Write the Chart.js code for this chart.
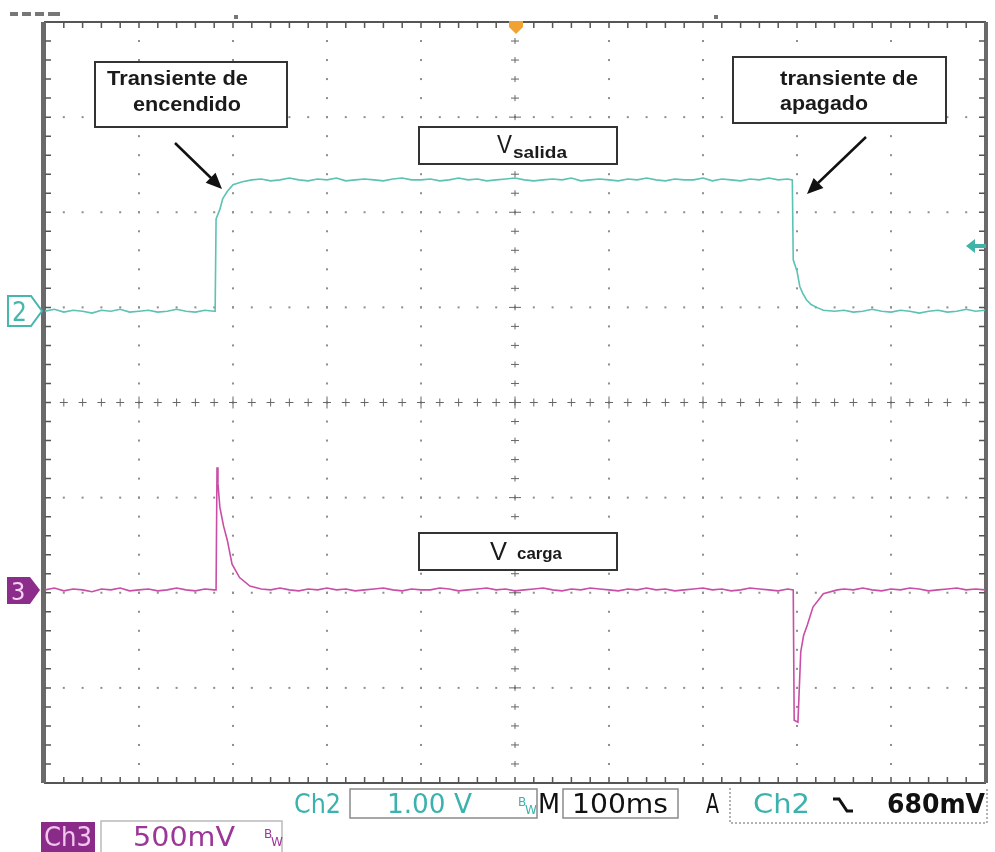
<!DOCTYPE html>
<html>
<head>
<meta charset="utf-8">
<script src="https://cdn.jsdelivr.net/npm/chart.js@4"></script>
<style>
  html, body { margin: 0; padding: 0; background: #fff; }
  #wrap { position: relative; width: 995px; height: 852px; overflow: hidden; }
  #scope, #overlay { position: absolute; left: 0; top: 0; }
  .note { font-family: "Liberation Sans", Arial, sans-serif; font-weight: bold; fill: #1a1a1a; }
  .osc { font-family: "DejaVu Sans Condensed", "DejaVu Sans", sans-serif; font-size: 26px; }
</style>
</head>
<body>
<div id="wrap">
<canvas id="scope" width="995" height="852"></canvas>
<svg id="overlay" width="995" height="852" xmlns="http://www.w3.org/2000/svg">
  <!-- cropped header remnant -->
  <g fill="#777">
    <rect x="10" y="12" width="8" height="4"/><rect x="22" y="12" width="9" height="4"/>
    <rect x="35" y="12" width="9" height="4"/><rect x="48" y="12" width="12" height="4"/>
    <rect x="234" y="15" width="4" height="4"/><rect x="714" y="15" width="4" height="4"/>
  </g>

  <!-- trigger position marker -->
  <path d="M509,21 H523 V27 L516,34 L509,27 Z" fill="#f0a232"/>
  <!-- trigger level marker -->
  <path d="M966,246 L975,239 V244 H986 V248 H975 V253 Z" fill="#3fb5a8"/>

  <!-- channel ground markers -->
  <path d="M8,296 H31 L42,311 L31,326 H8 Z" fill="#fff" stroke="#45b7ad" stroke-width="2"/>
  <text x="12" y="321" font-family="DejaVu Sans Condensed, DejaVu Sans" font-size="26" fill="#45b7ad">2</text>
  <path d="M7,577 H30 L40,590 L30,604 H7 Z" fill="#8c2d8c"/>
  <text x="11" y="600" font-family="DejaVu Sans Condensed, DejaVu Sans" font-size="25" fill="#f6d2f2">3</text>

  <!-- annotations -->
  <rect x="95" y="62" width="192" height="65" fill="#fff" stroke="#333" stroke-width="2"/>
  <text class="note" x="107" y="85" font-size="20" textLength="141" lengthAdjust="spacingAndGlyphs">Transiente de</text>
  <text class="note" x="133" y="111" font-size="20" textLength="108" lengthAdjust="spacingAndGlyphs">encendido</text>

  <rect x="733" y="57" width="213" height="66" fill="#fff" stroke="#333" stroke-width="2"/>
  <text class="note" x="780" y="85" font-size="20" textLength="138" lengthAdjust="spacingAndGlyphs">transiente de</text>
  <text class="note" x="780" y="110" font-size="20" textLength="88" lengthAdjust="spacingAndGlyphs">apagado</text>

  <rect x="419" y="127" width="198" height="37" fill="#fff" stroke="#333" stroke-width="2"/>
  <text x="497" y="153" font-family="Liberation Sans, Arial" font-size="25" fill="#1a1a1a" textLength="15" lengthAdjust="spacingAndGlyphs">V</text>
  <text class="note" x="513" y="158" font-size="17" textLength="54" lengthAdjust="spacingAndGlyphs">salida</text>

  <rect x="419" y="533" width="198" height="37" fill="#fff" stroke="#333" stroke-width="2"/>
  <text x="490" y="560" font-family="Liberation Sans, Arial" font-size="25" fill="#1a1a1a" textLength="17" lengthAdjust="spacingAndGlyphs">V</text>
  <text class="note" x="517" y="559" font-size="17" textLength="45" lengthAdjust="spacingAndGlyphs">carga</text>

  <!-- arrows -->
  <line x1="175" y1="143" x2="211" y2="178" stroke="#111" stroke-width="2.5"/>
  <polygon points="222,189 205.7,182.8 215.5,172.8" fill="#111"/>
  <line x1="866" y1="137" x2="818" y2="183" stroke="#111" stroke-width="2.5"/>
  <polygon points="807,194 813.6,177.9 823.4,187.9" fill="#111"/>

  <!-- readout, row 1 -->
  <text class="osc" x="294" y="813" fill="#3cb2ae" textLength="47" lengthAdjust="spacingAndGlyphs">Ch2</text>
  <rect x="350" y="789" width="187" height="29" fill="none" stroke="#8a8a8a" stroke-width="1.5"/>
  <text class="osc" x="387" y="813" fill="#3cb2ae" textLength="85" lengthAdjust="spacingAndGlyphs">1.00 V</text>
  <text font-family="DejaVu Sans" font-size="12" fill="#3cb2ae"><tspan x="518" y="806">B</tspan><tspan x="525" y="814">W</tspan></text>
  <text class="osc" x="538" y="813" fill="#111" textLength="22" lengthAdjust="spacingAndGlyphs">M</text>
  <rect x="563" y="789" width="115" height="29" fill="none" stroke="#8a8a8a" stroke-width="1.5"/>
  <text class="osc" x="572" y="813" fill="#111" textLength="96" lengthAdjust="spacingAndGlyphs">100ms</text>
  <text class="osc" x="706" y="813" fill="#111" textLength="13" lengthAdjust="spacingAndGlyphs">A</text>
  <path d="M730,788 V823 H987 V788" fill="none" stroke="#999" stroke-width="1.5" stroke-dasharray="2,2"/>
  <text class="osc" x="753" y="813" fill="#3cb2ae" textLength="57" lengthAdjust="spacingAndGlyphs">Ch2</text>
  <path d="M833,799 H839 L847,811 H853" fill="none" stroke="#111" stroke-width="3"/>
  <text class="osc" x="887" y="813" fill="#111" font-weight="bold" textLength="98" lengthAdjust="spacingAndGlyphs">680mV</text>

  <!-- readout, row 2 -->
  <rect x="41" y="822" width="54" height="30" fill="#8a2b8a"/>
  <text class="osc" x="44" y="846" fill="#f3c6ee" textLength="48" lengthAdjust="spacingAndGlyphs">Ch3</text>
  <path d="M101,852 V821 H282 V852" fill="none" stroke="#bbb" stroke-width="1.5"/>
  <text class="osc" x="133" y="846" fill="#9c3797" textLength="102" lengthAdjust="spacingAndGlyphs">500mV</text>
  <text font-family="DejaVu Sans" font-size="12" fill="#9c3797"><tspan x="264" y="838">B</tspan><tspan x="271" y="846">W</tspan></text>
</svg>
</div>
<script>
// time in ms (100 ms/div), values in screen divisions
const ch2Time = [
  0, 10, 20, 30, 40, 50, 60, 70, 80, 90, 100, 110, 120, 130, 140, 150, 160, 170, 180,
  181, 182, 186, 189, 194, 200, 210,
  220, 230, 240, 250, 260, 270, 280, 290, 300, 310, 320, 330, 340, 350, 360, 370, 380, 390, 400, 410,
  420, 430, 440, 450, 460, 470, 480, 490, 500, 510, 520, 530, 540, 550, 560, 570, 580, 590, 600, 610,
  620, 630, 640, 650, 660, 670, 680, 690, 700, 710, 720, 730, 740, 750, 760, 770, 780, 790,
  795, 796, 800, 803, 806, 810, 815, 821, 828,
  840, 850, 860, 870, 880, 890, 900, 910, 920, 930, 940, 950, 960, 970, 980, 990, 1000
];
const ch2Val = [
  0.96, 0.98, 0.95, 0.97, 0.96, 0.94, 0.97, 0.96, 0.98, 0.95, 0.96, 0.97, 0.95, 0.96, 0.98, 0.96, 0.95, 0.97, 0.96,
  0.96, 1.93, 2.03, 2.14, 2.22, 2.29, 2.32,
  2.34, 2.35, 2.33, 2.34, 2.36, 2.34, 2.33, 2.35, 2.34, 2.36,
  2.33, 2.34, 2.35, 2.34, 2.33, 2.35, 2.36, 2.34, 2.34, 2.35,
  2.33, 2.34, 2.36, 2.34, 2.35, 2.33, 2.34, 2.35, 2.36, 2.34,
  2.33, 2.34, 2.35, 2.34, 2.36, 2.33, 2.34, 2.35, 2.34, 2.33,
  2.35, 2.34, 2.36, 2.34, 2.33, 2.35, 2.34, 2.34, 2.36, 2.33,
  2.35, 2.34, 2.33, 2.35, 2.34, 2.36, 2.34, 2.35,
  2.34, 1.50, 1.38, 1.22, 1.15, 1.08, 1.03, 1.00, 0.97,
  0.96, 0.97, 0.95, 0.96, 0.98, 0.96, 0.95, 0.97, 0.96, 0.94, 0.96, 0.97, 0.95, 0.96, 0.98, 0.96, 0.97
];

const ch3Time = [
  0, 10, 20, 30, 40, 50, 60, 70, 80, 90, 100, 110, 120, 130, 140, 150, 160, 170, 180,
  182, 183, 184, 186, 190, 194, 199, 207, 218,
  230, 240, 250, 260, 270, 280, 290, 300, 310, 320, 330, 340, 350, 360, 370, 380, 390, 400, 410,
  420, 430, 440, 450, 460, 470, 480, 490, 500, 510, 520, 530, 540, 550, 560, 570, 580, 590, 600, 610,
  620, 630, 640, 650, 660, 670, 680, 690, 700, 710, 720, 730, 740, 750, 760, 770, 780, 790,
  796, 797, 801, 804, 807, 811, 817, 828, 843,
  850, 860, 870, 880, 890, 900, 910, 920, 930, 940, 950, 960, 970, 980, 990, 1000
];
const ch3Val = [
  -1.97, -1.95, -1.98, -1.96, -1.97, -1.99, -1.96, -1.97, -1.95, -1.98, -1.97, -1.96, -1.98, -1.97, -1.95, -1.97, -1.98, -1.96, -1.97,
  -1.97, -0.68, -0.85, -1.10, -1.30, -1.45, -1.70, -1.84, -1.93,
  -1.96, -1.97, -1.95, -1.97, -1.98, -1.96, -1.97, -1.95, -1.97, -1.96,
  -1.98, -1.97, -1.96, -1.95, -1.97, -1.98, -1.96, -1.97, -1.97, -1.95,
  -1.96, -1.98, -1.97, -1.96, -1.95, -1.97, -1.96, -1.98, -1.97, -1.96,
  -1.95, -1.97, -1.98, -1.96, -1.97, -1.95, -1.96, -1.97, -1.98, -1.96,
  -1.97, -1.95, -1.97, -1.96, -1.98, -1.97, -1.96, -1.95, -1.97, -1.96,
  -1.98, -1.97, -1.95, -1.96, -1.97, -1.98, -1.96,
  -1.97, -3.34, -3.36, -2.62, -2.45, -2.34, -2.15, -2.01, -1.97,
  -1.96, -1.97, -1.95, -1.97, -1.98, -1.96, -1.97, -1.95, -1.96, -1.98, -1.97, -1.96, -1.95, -1.97, -1.96, -1.97
];

// screen: 10 x 8 divisions, 5 minor steps per division
const xDivs = [0, 100, 200, 300, 400, 500, 600, 700, 800, 900, 1000];
const yDivs = [-4, -3, -2, -1, 0, 1, 2, 3, 4];

// oscilloscope graticule drawn from the chart scales
const graticule = {
  id: 'graticule',
  beforeDatasetsDraw(chart) {
    const {ctx, chartArea: a, scales: {x, y}} = chart;
    const dx = (x.getPixelForValue(100) - x.getPixelForValue(0)) / 5;
    const dy = (y.getPixelForValue(0) - y.getPixelForValue(1)) / 5;
    ctx.save();
    ctx.fillStyle = '#8e8e8e';
    // dotted division lines
    xDivs.slice(1, -1).forEach(t => {
      if (t === 500) return;
      const px = x.getPixelForValue(t);
      for (let k = 1; k < 40; k++) ctx.fillRect(px - 1, a.top + k * dy - 1, 2, 2);
    });
    yDivs.slice(1, -1).forEach(v => {
      if (v === 0) return;
      const py = y.getPixelForValue(v);
      for (let k = 1; k < 50; k++) ctx.fillRect(a.left + k * dx - 1, py - 1, 2, 2);
    });
    // centre cross with tick marks
    const cx = x.getPixelForValue(500), cy = y.getPixelForValue(0);
    ctx.strokeStyle = '#666';
    ctx.lineWidth = 1;
    ctx.beginPath();
    for (let k = 1; k < 50; k++) {
      const px = a.left + k * dx;
      const h = k % 5 === 0 ? 6 : 4;
      ctx.moveTo(px, cy - h); ctx.lineTo(px, cy + h);
      ctx.moveTo(px - 4, cy); ctx.lineTo(px + 4, cy);
    }
    for (let k = 1; k < 40; k++) {
      const py = a.top + k * dy;
      const w = k % 5 === 0 ? 6 : 4;
      ctx.moveTo(cx - w, py); ctx.lineTo(cx + w, py);
      ctx.moveTo(cx, py - 3); ctx.lineTo(cx, py + 3);
    }
    ctx.stroke();
    // border with inward ticks
    ctx.strokeStyle = '#555';
    ctx.lineWidth = 2;
    ctx.strokeRect(a.left, a.top, a.right - a.left, a.bottom - a.top);
    ctx.fillStyle = '#6a6a6a';
    ctx.fillRect(a.left - 4, a.top, 5, a.bottom - a.top);
    ctx.fillRect(a.right - 1, a.top, 4, a.bottom - a.top);
    ctx.lineWidth = 1.5;
    ctx.beginPath();
    for (let k = 1; k < 50; k++) {
      const px = a.left + k * dx;
      ctx.moveTo(px, a.top); ctx.lineTo(px, a.top + 6);
      ctx.moveTo(px, a.bottom); ctx.lineTo(px, a.bottom - 6);
    }
    for (let k = 1; k < 40; k++) {
      const py = a.top + k * dy;
      ctx.moveTo(a.left, py); ctx.lineTo(a.left + 6, py);
      ctx.moveTo(a.right, py); ctx.lineTo(a.right - 6, py);
    }
    ctx.stroke();
    ctx.restore();
  }
};

const pts = (ts, vs) => ts.map((t, i) => ({x: t, y: vs[i]}));

const scopeCtx = document.getElementById('scope').getContext('2d');
const scope = new Chart(scopeCtx, {
  type: 'line',
  data: {
    datasets: [
      {
        label: 'Ch2',
        data: pts(ch2Time, ch2Val),
        borderColor: '#5cc2b4',
        borderWidth: 1.6,
        pointRadius: 0,
        tension: 0,
      },
      {
        label: 'Ch3',
        data: pts(ch3Time, ch3Val),
        borderColor: '#c94ea6',
        borderWidth: 1.6,
        pointRadius: 0,
        tension: 0,
      },
    ],
  },
  options: {
    responsive: false,
    animation: false,
    events: [],
    layout: {padding: {left: 45, right: 10, top: 22, bottom: 69}},
    plugins: {legend: {display: false}, tooltip: {enabled: false}},
    scales: {
      x: {type: 'linear', min: 0, max: 1000, display: false},
      y: {type: 'linear', min: -4, max: 4, display: false},
    },
  },
  plugins: [graticule],
});
</script>
</body>
</html>
